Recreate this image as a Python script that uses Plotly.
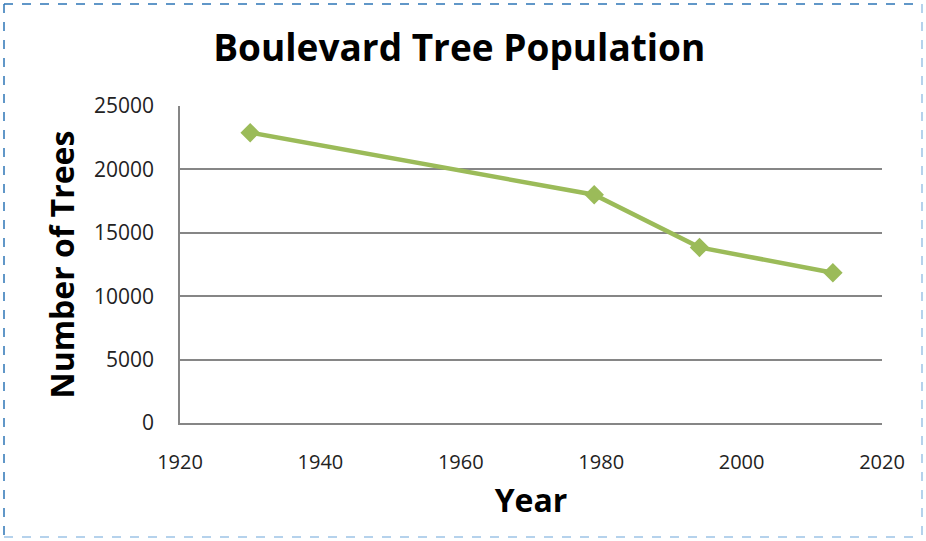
import plotly.graph_objects as go

years = [1930, 1979, 1994, 2013]
trees = [22900, 18000, 13850, 11850]

x_ticks = [1920, 1940, 1960, 1980, 2000, 2020]
y_ticks = [0, 5000, 10000, 15000, 20000, 25000]

FONT = "Open Sans"

fig = go.Figure()
fig.add_trace(go.Scatter(
    x=years, y=trees,
    mode="lines+markers",
    line=dict(color="#9BBB59", width=4.5),
    marker=dict(symbol="diamond", size=15, color="#9BBB59"),
    showlegend=False,
))

fig.update_layout(
    width=926, height=541,
    margin=dict(l=180, r=44, t=106, b=118),
    paper_bgcolor="white", plot_bgcolor="white",
    font=dict(family=FONT, color="black"),
    title=dict(
        text="<b>Boulevard Tree Population</b>",
        font=dict(family=FONT, size=37, color="black"),
        x=0.496, xanchor="center", y=0.912, yanchor="middle",
    ),
    xaxis=dict(
        range=[1920, 2020], tickvals=x_ticks, tickformat="d",
        showgrid=False, zeroline=False,
        showline=True, linecolor="#868686", linewidth=1.5,
        ticks="outside", ticklen=20, tickcolor="rgba(0,0,0,0)",
        tickfont=dict(family=FONT, size=20, color="#222"),
        title=dict(text="<b>Year</b>", font=dict(family=FONT, size=32), standoff=16),
    ),
    yaxis=dict(
        range=[0, 25000], tickvals=y_ticks, tickformat="d",
        showgrid=True, gridcolor="#868686", gridwidth=1.5,
        zeroline=False,
        showline=True, linecolor="#868686", linewidth=1.5,
        ticks="outside", ticklen=20, tickcolor="rgba(0,0,0,0)",
        tickfont=dict(family=FONT, size=21, color="#222"),
        title=dict(text="<b>Number of Trees</b>", font=dict(family=FONT, size=32), standoff=10),
    ),
)

# dashed frame around the whole picture
frame = [
    (4, 4, 922, 4, "#2E75B6"),
    (4, 4, 4, 537, "#2E75B6"),
    (922, 4, 922, 537, "#9DC3E6"),
    (4, 537, 922, 537, "#9DC3E6"),
]
for x0, y0, x1, y1, c in frame:
    fig.add_shape(
        type="line", xref="paper", yref="paper",
        x0=(x0 - 180) / 702, x1=(x1 - 180) / 702,
        y0=(423 - y0) / 317, y1=(423 - y1) / 317,
        line=dict(color=c, width=1.5, dash="dash"),
    )

fig.write_html("out.html", config={"displayModeBar": False},
               post_script="document.body.style.margin='0';")
